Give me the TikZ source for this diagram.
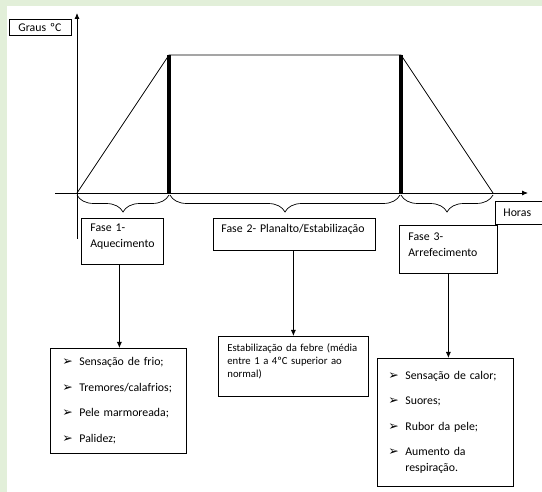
\documentclass[tikz,border=0pt]{standalone}
\usepackage{fontspec}
\setmainfont{Carlito}
\newfontfamily\bulfont{DejaVu Sans}
\usetikzlibrary{arrows.meta,positioning,calc,decorations.pathreplacing}
\tikzset{>={Latex[length=6pt,width=5pt]}}
\definecolor{bggreen}{RGB}{226,239,217}
\def\thickw{4.5pt}
\def\bulw{17pt}
\newcommand{\bul}{\makebox[\bulw][l]{\bulfont\fontsize{12.5}{8}\selectfont ➢}}
\tikzset{
  textbox/.style={draw,line width=0.8pt,anchor=north west,inner xsep=9pt,align=left,
    font=\fontsize{11.8}{16}\selectfont},
  listbox/.style={textbox,inner xsep=12pt,inner ysep=0pt},
  phasebrace/.style={decorate,decoration={brace,mirror,amplitude=17pt},line width=0.7pt},
  axisline/.style={->,line width=0.8pt},
}
\begin{document}
\begin{tikzpicture}[x=1pt,y=-1pt]
  \useasboundingbox (0,0) rectangle (542,492);
  \fill[bggreen] (0,0) rectangle (542,492);
  \fill[white] (7,6) rectangle (542,492);

  %% axes
  \coordinate (o) at (77,193);
  \draw[axisline] (55,193) -- (528,193);
  \draw[axisline] (77,239) -- (77,13);

  %% temperature curve
  \coordinate (rise) at (169,55);
  \coordinate (fall) at (401,55);
  \coordinate (end) at (493,193);
  \draw[line width=0.8pt] (o) -- (rise) -- (fall) -- (end);
  \draw[line width=\thickw] (rise) -- (rise |- o);
  \draw[line width=\thickw] (fall) -- (fall |- o);

  %% braces under the axis
  \draw[phasebrace] ([yshift=-2pt]o) -- ([yshift=-2pt]rise |- o);
  \draw[phasebrace] ([xshift=1pt,yshift=-2pt]rise |- o) -- ([xshift=-1pt,yshift=-2pt]fall |- o);
  \draw[phasebrace] ([yshift=-2pt]fall |- o) -- ([yshift=-2pt]end);

  \node[textbox,text width=44,minimum height=16,inner ysep=0pt] (graus) at (9,19) {Graus ºC};
  \node[textbox,text width=40,inner xsep=8pt,minimum height=23] (horas) at (495,201) {Horas};

  \node[textbox,text width=64,inner ysep=6pt,text depth=26pt] (fase1) at (81,218) {Fase 1-\\Aquecimento};
  \node[textbox,text width=146,inner xsep=8pt,inner ysep=6pt,text depth=12pt] (fase2) at (213,218) {Fase 2- Planalto/Estabilização};
  \node[textbox,text width=80,inner ysep=7pt,text depth=26pt] (fase3) at (399,225) {Fase 3-\\Arrefecimento};

  \node[listbox,text width=112,minimum height=105] (frio) at (50,348) {%
    \begin{tabular}{@{}l@{}}
      \bul Sensação de frio;\\[9.5pt]
      \bul Tremores/calafrios;\\[9.5pt]
      \bul Pele marmoreada;\\[9.5pt]
      \bul Palidez;
    \end{tabular}};
  \node[textbox,text width=132,inner ysep=7.5pt,text depth=37pt,
    font=\fontsize{10.7}{13}\selectfont] (estab) at (218,336)
    {Estabilização da febre (média\\entre 1 a 4ºC superior ao\\normal)};
  \node[listbox,inner xsep=11pt,text width=114,minimum height=128] (calor) at (377,358) {%
    \begin{tabular}{@{}l@{}}
      \bul Sensação de calor;\\[9.5pt]
      \bul Suores;\\[9.5pt]
      \bul Rubor da pele;\\[9.5pt]
      \bul Aumento da\\
      \hspace{\bulw}respiração.
    \end{tabular}};

  %% arrows to the symptoms
  \draw[->,line width=0.8pt] ([xshift=-3pt]fase1.south) -- ([xshift=-3pt]fase1.south |- frio.north);
  \draw[->,line width=0.8pt] (fase2.south -| estab.north) -- (estab.north);
  \draw[->,line width=0.8pt] (fase3.south) -- (fase3.south |- calor.north);
\end{tikzpicture}
\end{document}
